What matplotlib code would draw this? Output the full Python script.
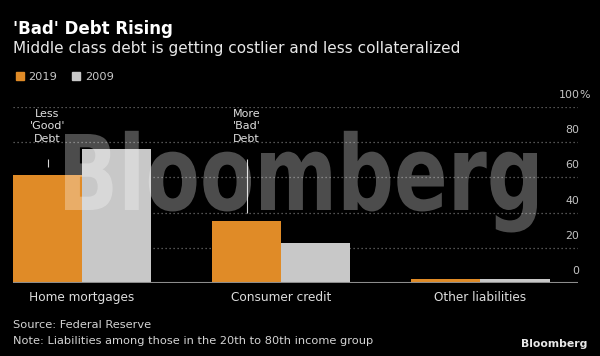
import numpy as np
import matplotlib
matplotlib.use("Agg")
import matplotlib.pyplot as plt
import matplotlib.transforms as mtransforms
from matplotlib.patches import Patch, PathPatch
from matplotlib.textpath import TextPath
from matplotlib.font_manager import FontProperties

# data (% of middle class debt)
categories = ["Home mortgages", "Consumer credit", "Other liabilities"]
share_2019 = [61.5, 35.5, 2.0]
share_2009 = [76.0, 22.5, 2.0]
y_ticks = [0, 20, 40, 60, 80, 100]
callouts = ["Less\n'Good'\nDebt", "More\n'Bad'\nDebt"]  # over the 2019 bars of first two groups

ORANGE = "#e08b27"
GRAY = "#c8c8c8"

fig = plt.figure(figsize=(6, 3.56), dpi=100, facecolor="black")
ax = fig.add_axes([13/600, 1 - 283/356, 565/600, 176/356])
ax.set_facecolor("black")

x = np.arange(len(categories))
w = 0.347
ax.bar(x - w/2, share_2019, w, color=ORANGE, zorder=3)
ax.bar(x + w/2, share_2009, w, color=GRAY, zorder=3)
ax.set_xlim(-w, 2.49)
ax.set_ylim(0, 100)

for s in ax.spines.values():
    s.set_visible(False)
ax.axhline(0, color="#8c8c8c", lw=1.5, zorder=4)
ax.grid(axis="y", color="#6e6e6e", linestyle=(0, (1, 2.2)), lw=0.9, zorder=1)

# y labels on the right, sitting above their gridlines
ax.set_yticks(y_ticks)
ax.set_yticklabels([str(t) for t in y_ticks])
ax.yaxis.tick_right()
ax.tick_params(axis="y", length=0, pad=1, labelsize=7.9, labelcolor="#c4c4c4")
lift = mtransforms.ScaledTranslation(0, 13/100, fig.dpi_scale_trans)
for lab in ax.get_yticklabels():
    lab.set_horizontalalignment("right")
    lab.set_transform(lab.get_transform() + lift)
ax.annotate("%", xy=(1, 100), xycoords=("axes fraction", "data"),
            xytext=(1.2, 9.4), textcoords="offset points",
            ha="left", va="center_baseline", fontsize=7.9, color="#c4c4c4")

ax.set_xticks(x, categories)
ax.tick_params(axis="x", length=0, pad=6, labelsize=8.7, labelcolor="#dddddd")

# callouts
for i, txt in enumerate(callouts):
    xi = x[i] - w/2
    ax.text(xi, 89, txt, ha="center", va="center", fontsize=8, color="#e0e0e0",
            linespacing=1.35, zorder=5)
    ax.vlines(xi, share_2019[i] + 4.5, 70.3, color="#d8d8d8", lw=0.8, zorder=5)

fig.legend(handles=[Patch(color=ORANGE, label="2019"), Patch(color=GRAY, label="2009")],
           loc="center left", bbox_to_anchor=(16/600, 1 - 77/356), ncol=2, frameon=False,
           handlelength=0.7, handleheight=0.7, handletextpad=0.4, columnspacing=1.3,
           fontsize=8.2, labelcolor="#c8c8c8", borderpad=0, borderaxespad=0)

fig.text(13/600, 1 - 34/356, "'Bad' Debt Rising", fontsize=12, fontweight="bold",
         color="white", va="baseline")
fig.text(13/600, 1 - 53/356, "Middle class debt is getting costlier and less collateralized",
         fontsize=11, color="#e8e8e8", va="baseline")
fig.text(13/600, 1 - 328/356, "Source: Federal Reserve", fontsize=8.2, color="#d4d4d4",
         va="baseline")
fig.text(13/600, 1 - 344/356, "Note: Liabilities among those in the 20th to 80th income group",
         fontsize=8.2, color="#d4d4d4", va="baseline")
fig.text(587/600, 1 - 347/356, "Bloomberg", fontsize=7.8, fontweight="bold",
         color="#e8e8e8", ha="right", va="baseline")

# big translucent watermark
fp = FontProperties(family="DejaVu Sans", weight="bold")
tp = TextPath((0, 0), "Bloomberg", size=1, prop=fp)
ext = tp.get_extents()
cap = TextPath((0, 0), "B", size=1, prop=fp).get_extents().height
sx = (472/600) / ext.width
sy = (76/356) / cap
tr = (mtransforms.Affine2D().translate(-ext.x0, 0).scale(sx, sy)
      .translate(65/600, 1 - 210/356) + fig.transFigure)
fig.add_artist(PathPatch(tp, facecolor="white", edgecolor="none", alpha=0.3,
                         transform=tr, zorder=2))

fig.savefig("out.png", dpi=100, facecolor="black")
